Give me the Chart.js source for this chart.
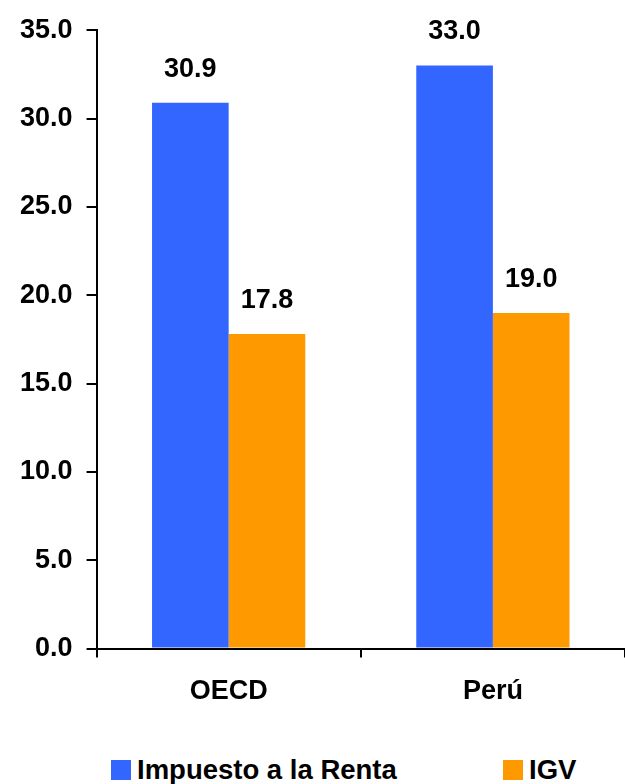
<!DOCTYPE html>
<html>
<head>
<meta charset="utf-8">
<script src="https://cdn.jsdelivr.net/npm/chart.js@4.4.1/dist/chart.umd.min.js"></script>
<style>
  html, body { margin: 0; padding: 0; background: #fff; }
  #wrap { position: relative; width: 625px; height: 736px; }
  #legend { position: absolute; top: 756px; left: 0; width: 625px; height: 28px;
            font-family: "Liberation Sans", Arial, sans-serif; font-weight: bold; font-size: 27.5px; color: #000; }
  .item { position: absolute; top: 0; display: flex; align-items: center; white-space: nowrap; line-height: 28px; }
  .sw { width: 20px; height: 20px; margin-right: 6px; }
</style>
</head>
<body>
<div id="wrap"><canvas id="c"></canvas></div>
<div id="legend">
  <div class="item" style="left:111px"><span class="sw" style="background:#3366FF"></span><span id="l0"></span></div>
  <div class="item" style="left:503px"><span class="sw" style="background:#FF9900"></span><span id="l1"></span></div>
</div>
<script>
const categories = ["OECD", "Perú"];
const seriesNames = ["Impuesto a la Renta", "IGV"];
const rentaValues = [30.9, 33.0];
const igvValues = [17.8, 19.0];
const yTicks = [0, 5, 10, 15, 20, 25, 30, 35];

document.getElementById('l0').textContent = seriesNames[0];
document.getElementById('l1').textContent = seriesNames[1];

const FONT = "'Liberation Sans', Arial, sans-serif";

const valueLabels = {
  id: 'valueLabels',
  afterDatasetsDraw(chart) {
    const ctx = chart.ctx;
    ctx.save();
    ctx.font = "bold 27px " + FONT;
    ctx.fillStyle = '#000';
    ctx.textAlign = 'center';
    ctx.textBaseline = 'bottom';
    chart.data.datasets.forEach((ds, i) => {
      chart.getDatasetMeta(i).data.forEach((bar, j) => {
        ctx.fillText(ds.data[j].toFixed(1), bar.x, bar.y - 20);
      });
    });
    ctx.restore();
  }
};

new Chart(document.getElementById('c'), {
  type: 'bar',
  data: {
    labels: categories,
    datasets: [
      { label: seriesNames[0], data: rentaValues, backgroundColor: '#3366FF' },
      { label: seriesNames[1], data: igvValues, backgroundColor: '#FF9900' }
    ]
  },
  options: {
    responsive: true,
    maintainAspectRatio: false,
    animation: false,
    layout: { padding: { top: 30, left: 6, right: 0, bottom: 10 } },
    datasets: { bar: { categoryPercentage: 0.58, barPercentage: 1.0 } },
    plugins: { legend: { display: false }, tooltip: { enabled: false } },
    scales: {
      x: {
        offset: true,
        grid: { display: true, drawOnChartArea: false, drawTicks: true, tickLength: 9, color: '#000', lineWidth: 2, offset: true },
        border: { display: true, color: '#000', width: 2 },
        ticks: { color: '#000', font: { family: FONT, weight: 'bold', size: 27 }, padding: 18 }
      },
      y: {
        min: 0, max: 35,
        afterBuildTicks(scale) { scale.ticks = yTicks.map(v => ({ value: v })); },
        grid: { display: true, drawOnChartArea: false, drawTicks: true, tickLength: 10, color: '#000', lineWidth: 2 },
        border: { display: true, color: '#000', width: 2 },
        ticks: { color: '#000', font: { family: FONT, weight: 'bold', size: 27 }, padding: 14,
                 callback: (v) => Number(v).toFixed(1) }
      }
    }
  },
  plugins: [valueLabels]
});
</script>
</body>
</html>
